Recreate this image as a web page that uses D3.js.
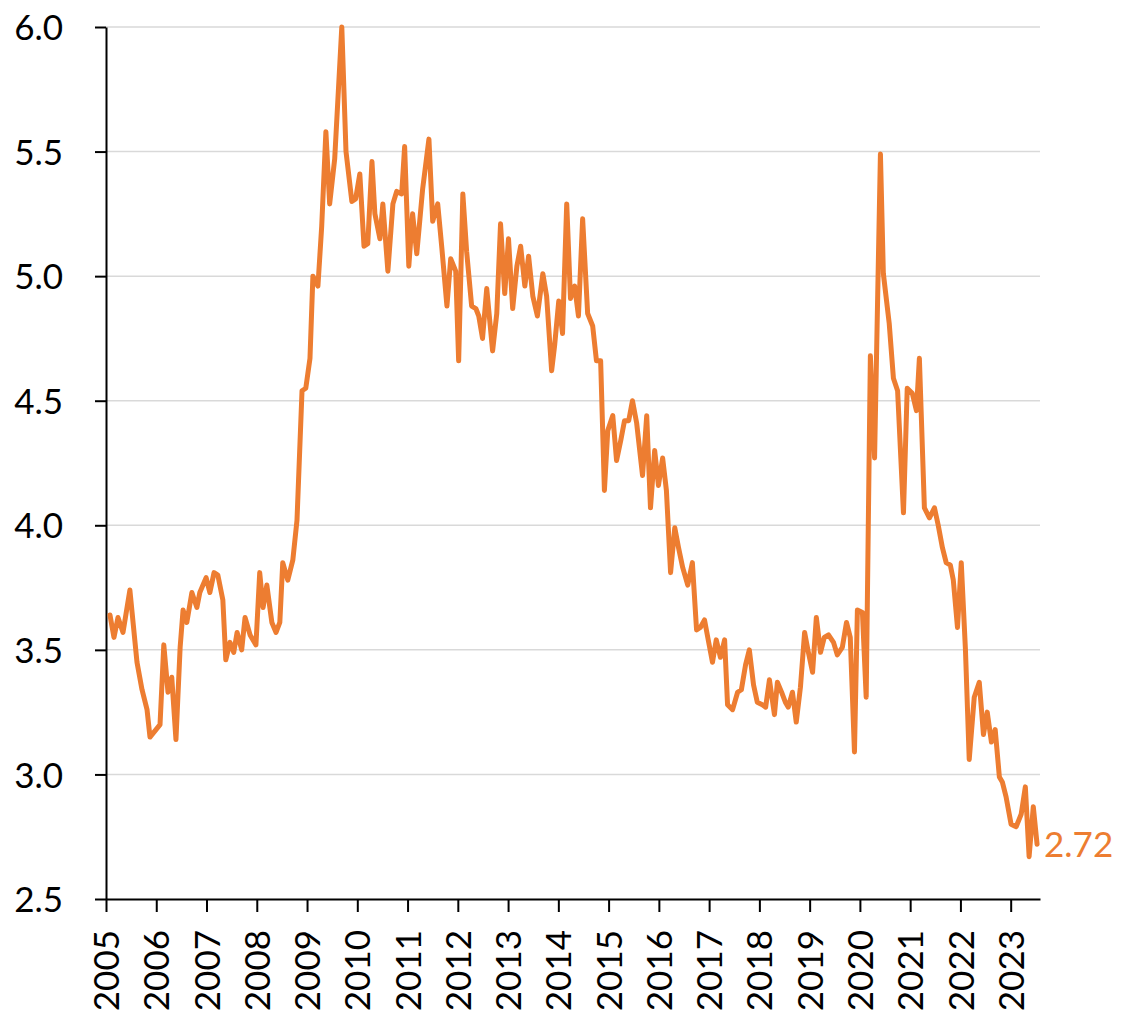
<!DOCTYPE html>
<html>
<head>
<meta charset="utf-8">
<script src="https://cdn.jsdelivr.net/npm/d3@7"></script>
<style>
  body { margin: 0; background: #fff; }
  svg text { font-family: Lato, "Open Sans", sans-serif; }
  .grid line { stroke: #d9d9d9; stroke-width: 1.5; }
  .axis path, .axis line { stroke: #000; stroke-width: 2; }
  .axis text { font-size: 35px; fill: #000; }
  .series { fill: none; stroke: #ed7d31; stroke-width: 5; stroke-linejoin: round; stroke-linecap: round; }
  .last-label { font-size: 35px; fill: #ed7d31; }
</style>
</head>
<body>
<svg id="chart" width="1122" height="1015"></svg>
<script>
const chartSize = { width: 1122, height: 1015 };
const plot = { left: 106, right: 1040, top: 27, bottom: 899 };

const yearLabels = ["2005", "2006", "2007", "2008", "2009", "2010", "2011", "2012", "2013",
  "2014", "2015", "2016", "2017", "2018", "2019", "2020", "2021", "2022", "2023"];
const yTicks = [2.5, 3.0, 3.5, 4.0, 4.5, 5.0, 5.5, 6.0];

// months since Jan 2005
const months = [0.95, 1.9, 2.86, 4.06, 5.7, 7.4, 8.6, 9.8, 10.5, 12.9, 13.8, 14.8, 15.7, 16.7, 17.7,
  18.4, 19.3, 20.5, 21.7, 22.4, 23.9, 24.8, 25.8, 26.7, 27.9, 28.6, 29.6, 30.5, 31.3, 32.4, 33.2,
  34.4, 35.8, 36.7, 37.5, 38.4, 39.6, 40.6, 41.5, 42.2, 43.4, 44.6, 45.6, 46.8, 47.7, 48.7, 49.4,
  50.6, 51.5, 52.5, 53.4, 54.6, 56.3, 57.3, 58.7, 59.6, 60.6, 61.6, 62.5, 63.5, 64.2, 65.4, 66.1,
  67.3, 68.5, 69.4, 70.6, 71.3, 72.3, 73.2, 74.2, 75.6, 77.1, 78.0, 79.2, 80.2, 81.4, 82.3, 83.5,
  84.2, 85.2, 86.1, 87.3, 88.3, 89.0, 89.9, 90.9, 92.3, 93.3, 94.2, 95.2, 96.1, 97.1, 98.1, 99.0,
  100.0, 100.9, 101.9, 103.0, 104.3, 105.2, 106.4, 107.1, 108.1, 109.0, 110.0, 110.9, 111.9, 112.8,
  113.8, 115.0, 116.2, 117.1, 118.1, 119.0, 119.8, 121.0, 121.9, 122.9, 123.8, 124.8, 125.7, 126.7,
  128.1, 129.1, 130.0, 131.0, 131.9, 132.9, 133.8, 134.8, 135.8, 136.7, 137.7, 138.9, 140.0, 141.0,
  141.9, 142.9, 143.9, 144.8, 145.7, 146.7, 147.7, 148.4, 149.6, 150.8, 151.7, 152.7, 153.6, 154.6,
  155.5, 156.7, 157.5, 158.4, 159.6, 160.3, 161.3, 162.2, 162.9, 163.9, 164.8, 165.8, 166.8, 167.7,
  168.7, 169.6, 170.6, 171.5, 172.5, 173.7, 174.6, 175.8, 176.8, 177.7, 178.7, 179.4, 180.6, 181.5,
  182.5, 183.5, 184.9, 185.6, 187.0, 188.0, 189.0, 190.4, 191.3, 192.5, 193.5, 194.2, 195.4, 196.6,
  197.8, 198.7, 199.7, 200.6, 201.6, 202.3, 203.3, 204.2, 205.2, 206.1, 207.3, 208.5, 209.5, 210.4,
  211.4, 212.3, 213.3, 214.0, 214.9, 216.1, 217.3, 218.5, 219.5, 220.4, 221.4, 222.3];

const values = [3.64, 3.55, 3.63, 3.57, 3.74, 3.45, 3.34, 3.26, 3.15, 3.20, 3.52, 3.33, 3.39, 3.14, 3.51,
  3.66, 3.61, 3.73, 3.67, 3.73, 3.79, 3.73, 3.81, 3.80, 3.70, 3.46, 3.53, 3.49, 3.57, 3.50, 3.63,
  3.56, 3.52, 3.81, 3.67, 3.76, 3.61, 3.57, 3.61, 3.85, 3.78, 3.86, 4.02, 4.54, 4.55, 4.67, 5.00,
  4.96, 5.20, 5.58, 5.29, 5.47, 6.00, 5.50, 5.30, 5.31, 5.41, 5.12, 5.13, 5.46, 5.25, 5.15, 5.29,
  5.02, 5.29, 5.34, 5.33, 5.52, 5.04, 5.25, 5.09, 5.35, 5.55, 5.22, 5.29, 5.11, 4.88, 5.07, 5.02,
  4.66, 5.33, 5.10, 4.88, 4.87, 4.84, 4.75, 4.95, 4.70, 4.85, 5.21, 4.93, 5.15, 4.87, 5.04, 5.12,
  4.96, 5.08, 4.92, 4.84, 5.01, 4.92, 4.62, 4.72, 4.90, 4.77, 5.29, 4.91, 4.96, 4.84,
  5.23, 4.85, 4.80, 4.66, 4.66, 4.14, 4.38, 4.44, 4.26, 4.34, 4.42, 4.42, 4.50, 4.41,
  4.20, 4.44, 4.07, 4.30, 4.16, 4.27, 4.14, 3.81, 3.99, 3.91, 3.83, 3.76, 3.85, 3.58,
  3.59, 3.62, 3.53, 3.45, 3.54, 3.47, 3.54, 3.28, 3.26, 3.33, 3.34, 3.44, 3.50, 3.36,
  3.29, 3.28, 3.27, 3.38, 3.24, 3.37, 3.33, 3.29, 3.27, 3.33, 3.21, 3.35, 3.57, 3.49,
  3.41, 3.63, 3.49, 3.55, 3.56, 3.53, 3.48, 3.51, 3.61, 3.55, 3.09, 3.66, 3.65, 3.31,
  4.68, 4.27, 5.49, 5.01, 4.81, 4.59, 4.54, 4.05, 4.55, 4.53, 4.46, 4.67, 4.07, 4.03,
  4.07, 4.00, 3.91, 3.85, 3.84, 3.78, 3.59, 3.85, 3.50, 3.06, 3.31, 3.37, 3.16, 3.25,
  3.13, 3.18, 2.99, 2.97, 2.91, 2.80, 2.79, 2.84, 2.95, 2.67, 2.87, 2.72];

const lastLabel = "2.72";

const drawChart = function() {
  if (months.length !== values.length) console.log("length mismatch", months.length, values.length);

  const svg = d3.select("#chart")
    .attr("width", chartSize.width)
    .attr("height", chartSize.height);

  const x = d3.scaleLinear().domain([0, 223]).range([plot.left, plot.right]);
  const y = d3.scaleLinear().domain([2.5, 6.0]).range([plot.bottom, plot.top]);

  // horizontal gridlines
  svg.append("g")
    .attr("class", "grid")
    .selectAll("line")
    .data(yTicks.filter(t => t > 2.5))
    .join("line")
    .attr("x1", plot.left)
    .attr("x2", plot.right)
    .attr("y1", d => y(d))
    .attr("y2", d => y(d));

  const yAxis = d3.axisLeft(y)
    .tickValues(yTicks)
    .tickFormat(d3.format(".1f"))
    .tickSize(11)
    .tickSizeOuter(0)
    .tickPadding(32);

  svg.append("g")
    .attr("class", "axis y-axis")
    .attr("transform", `translate(${plot.left},0)`)
    .call(yAxis)
    .call(g => g.selectAll("text").attr("dy", "0.36em"));

  const xAxis = d3.axisBottom(x)
    .tickValues(yearLabels.map((d, i) => i * 12))
    .tickFormat((d, i) => yearLabels[i])
    .tickSize(13)
    .tickSizeOuter(0);

  svg.append("g")
    .attr("class", "axis x-axis")
    .attr("transform", `translate(0,${plot.bottom})`)
    .call(xAxis)
    .call(g => g.selectAll("text")
      .attr("transform", "rotate(-90)")
      .attr("text-anchor", "end")
      .attr("x", -31)
      .attr("y", 0)
      .attr("dy", "0.36em"));

  const points = months.map((m, i) => ({ m, v: values[i] }));
  const line = d3.line().x(d => x(d.m)).y(d => y(d.v));

  svg.append("path")
    .attr("class", "series")
    .attr("d", line(points));

  const last = points[points.length - 1];
  svg.append("text")
    .attr("class", "last-label")
    .attr("x", x(last.m) + 7)
    .attr("y", y(last.v))
    .attr("dy", "0.36em")
    .text(lastLabel);
};

window.onload = drawChart;
</script>
</body>
</html>
